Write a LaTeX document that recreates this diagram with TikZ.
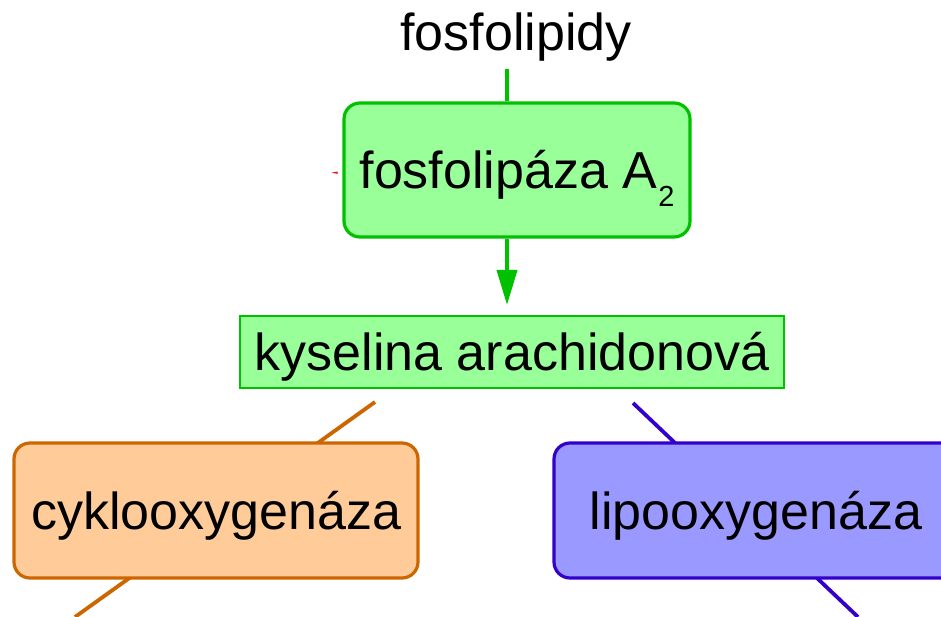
\documentclass[tikz,border=0pt]{standalone}
\usepackage{fontspec}
\setmainfont{Liberation Sans}
\usetikzlibrary{arrows.meta,backgrounds}
\definecolor{gfill}{HTML}{99FF99}
\definecolor{gline}{HTML}{00C000}
\definecolor{ofill}{HTML}{FFCC99}
\definecolor{oline}{HTML}{CC6600}
\definecolor{bfill}{HTML}{9999FF}
\definecolor{bline}{HTML}{3300CC}
\tikzset{
  lbl/.style={font=\fontsize{52}{62}\selectfont, inner sep=0pt},
  box/.style={font=\fontsize{52}{62}\selectfont, inner sep=0pt, text height=37pt, text depth=0pt, line width=3.2pt},
  rbox/.style={box, rounded corners=16pt},
  conn/.style={line width=3.8pt}
}
\begin{document}
\begin{tikzpicture}[x=1pt,y=-1pt]
\useasboundingbox (0,0) rectangle (941,617);
\node[lbl, anchor=base] (fos) at (516,51) {fosfolipidy};
\node[rbox, draw=gline, fill=gfill, minimum width=346pt, minimum height=134pt] (pla) at (517,170)
  {fosfolip\'aza A\hspace{1pt}\raisebox{-18pt}{\fontsize{29}{29}\selectfont 2}};
\node[box, draw=gline, fill=gfill, line width=2.8pt, minimum width=544pt, minimum height=72pt] (kys) at (512,352) {kyselina arachidonov\'a};
\node[rbox, draw=oline, fill=ofill, minimum width=404pt, minimum height=135pt] (cox) at (216,510.5) {cyklooxygen\'aza};
\node[rbox, draw=bline, fill=bfill, minimum width=404pt, minimum height=135pt] (lox) at (756,510.5) {lipooxygen\'aza};
\coordinate (top) at (507,69);
\coordinate (tip) at (507,305);
\coordinate (o1) at (375,402);
\coordinate (o2) at (75,617);
\coordinate (b1) at (633,403);
\coordinate (b2) at (858,617);
\begin{pgfonlayer}{background}
\draw[conn, gline] (top) -- (top |- pla.north);
\draw[conn, oline] (o1) -- (o2);
\draw[conn, bline] (b1) -- (b2);
\end{pgfonlayer}
\draw[conn, gline, -{Triangle[length=35pt,width=20pt]}] (tip |- pla.south) -- (tip);
\fill[red] (331.5,172.7) -- (337.5,171.6) -- (337.5,173.8) -- cycle;
\end{tikzpicture}
\end{document}
